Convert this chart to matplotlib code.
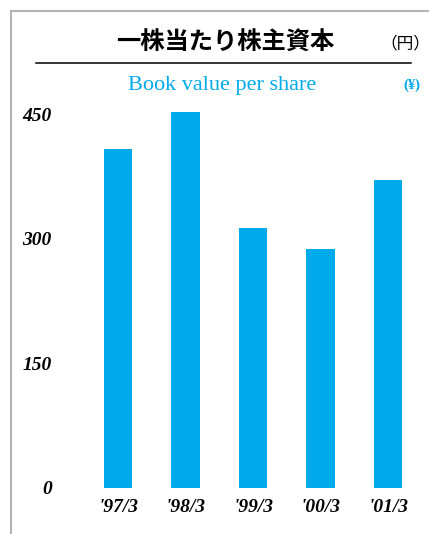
import matplotlib
matplotlib.use("Agg")
import matplotlib.pyplot as plt
from matplotlib.lines import Line2D

# Book value per share (yen), fiscal years ending March
periods = ["'97/3", "'98/3", "'99/3", "'00/3", "'01/3"]
book_value = [408, 452, 313, 288, 371]
y_ticks = [0, 150, 300, 450]

BAR_COLOR = "#00AAEB"
W, H = 429, 534

fig = plt.figure(figsize=(W / 100, H / 100), dpi=100)

# axes placed in pixel terms
ax_left, ax_right = 60, 420
ax_bottom, ax_top = 488, 100
ax = fig.add_axes([ax_left / W, (H - ax_bottom) / H,
                   (ax_right - ax_left) / W, (ax_bottom - ax_top) / H])

x = range(len(periods))
ax.bar(x, book_value, width=0.415, color=BAR_COLOR, zorder=2)

ax.set_xlim(-(118 - ax_left) / 67.5, 4 + (ax_right - 388) / 67.5)
ax.set_ylim(0, (ax_bottom - ax_top) / 0.831)

ax.set_xticks(list(x))
ax.set_xticklabels(periods, fontfamily="Liberation Serif", fontweight="bold",
                   fontstyle="italic", fontsize=14)
ax.set_yticks(y_ticks)
ax.set_yticklabels([str(v) for v in y_ticks], fontfamily="Liberation Serif",
                   fontweight="bold", fontstyle="italic", fontsize=14)
ax.tick_params(axis="both", length=0)
ax.tick_params(axis="x", pad=8)
ax.tick_params(axis="y", pad=6)
for s in ax.spines.values():
    s.set_visible(False)

# titles
fig.text(225 / W, 1 - 43 / H, "一株当たり株主資本", fontfamily="Noto Sans CJK JP",
         fontweight="bold", fontsize=17.5, ha="center", va="center")
fig.text(405 / W, 1 - 44 / H, "（円）", fontfamily="Noto Sans CJK JP",
         fontsize=12, ha="center", va="center")
fig.text(222 / W, 1 - 85 / H, "Book value per share", fontfamily="Liberation Serif",
         fontsize=16, color=BAR_COLOR, ha="center", va="center")
fig.text(412 / W, 1 - 85 / H, "(¥)", fontfamily="Liberation Serif",
         fontweight="bold", fontsize=10.5, color=BAR_COLOR,
         ha="center", va="center")

# rule under the Japanese title
fig.add_artist(Line2D([36 / W, 411 / W], [1 - 63 / H, 1 - 63 / H],
                      color="black", linewidth=1.1))
# grey frame along the top and left edges
fig.add_artist(Line2D([11 / W, 1.0], [1 - 11 / H, 1 - 11 / H],
                      color="#b4b4b4", linewidth=1.5))
fig.add_artist(Line2D([11 / W, 11 / W], [1 - 11 / H, 0.0],
                      color="#b4b4b4", linewidth=1.5))

fig.savefig("out.png", dpi=100)
